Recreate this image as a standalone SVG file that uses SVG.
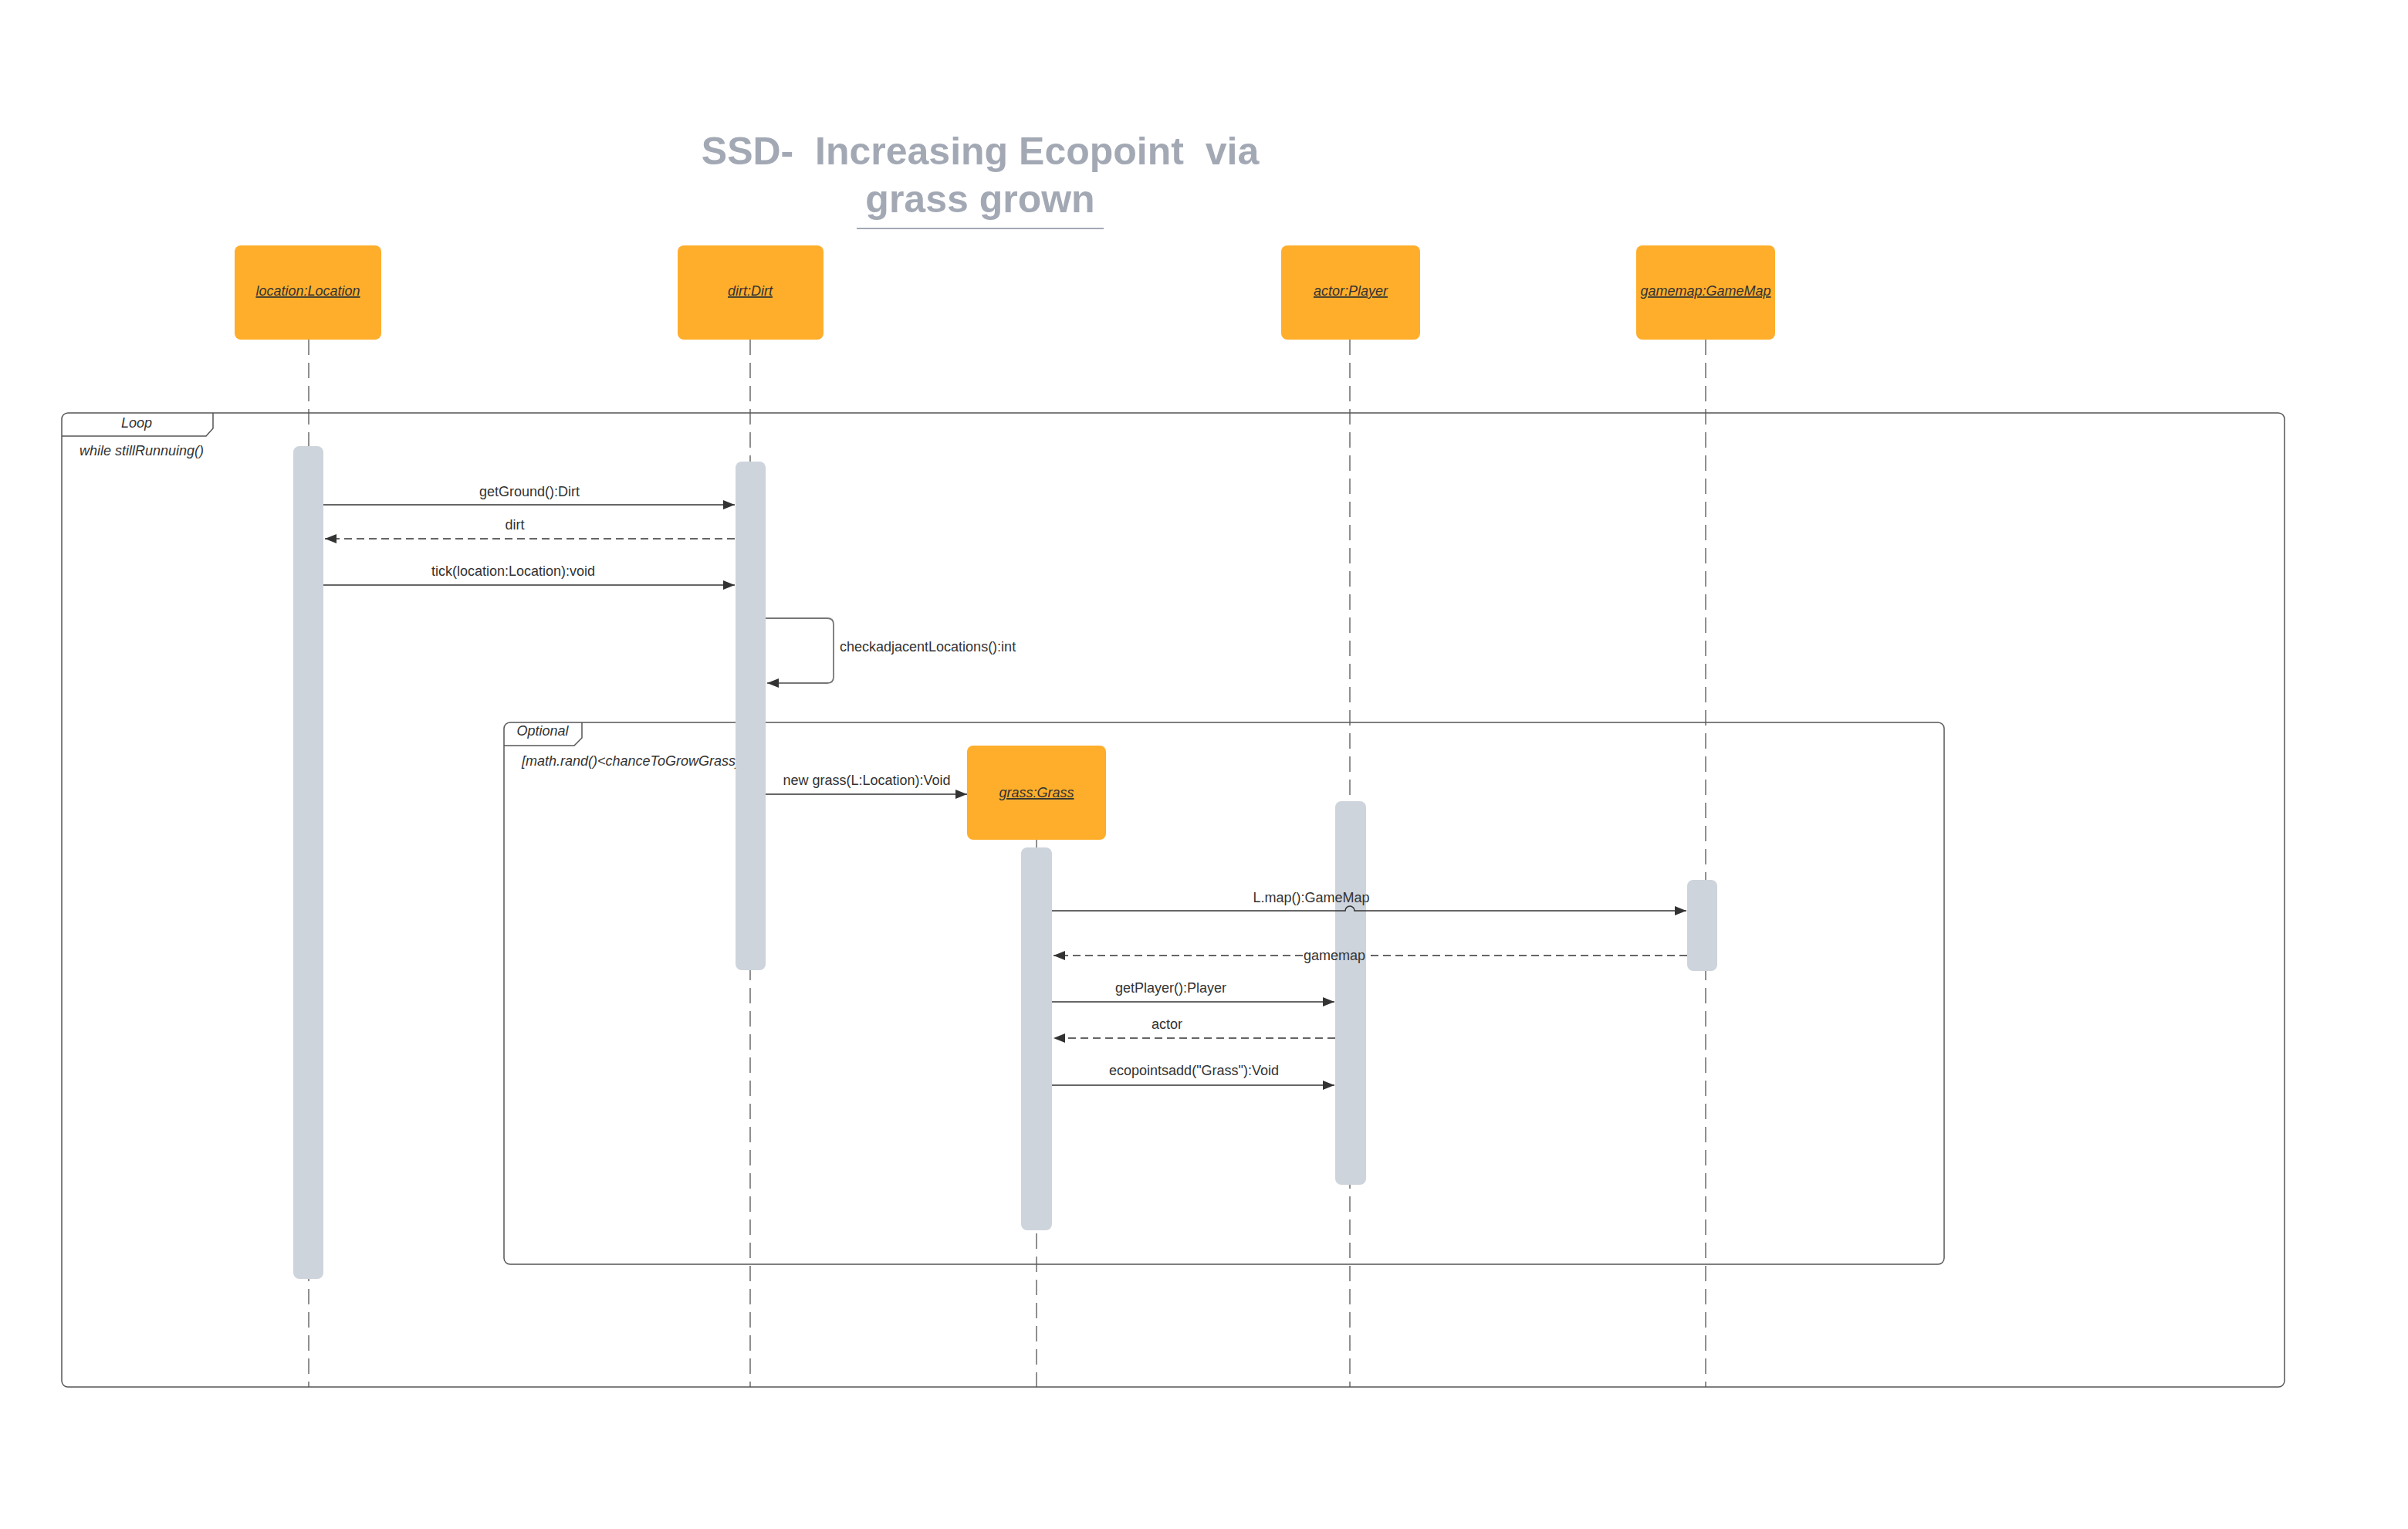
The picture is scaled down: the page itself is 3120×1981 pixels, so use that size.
<svg xmlns="http://www.w3.org/2000/svg" width="3120" height="1981" viewBox="0 0 3120 1981">
<style>
.title{font-family:"Liberation Sans",Arial,sans-serif;font-weight:bold;font-size:50px;fill:#a3a9b4;text-anchor:middle;white-space:pre}
.box{fill:#feae2b}
.nlabel{font-family:"Liberation Sans",Arial,sans-serif;font-size:18px;font-style:italic;text-decoration:underline;fill:#333;text-anchor:middle}
.life{stroke:#555;stroke-width:1.3;stroke-dasharray:20 10;fill:none}
.bar{fill:#ced4dc}
.frame{fill:none;stroke:#555;stroke-width:1.5}
.ftext{font-family:"Liberation Sans",Arial,sans-serif;font-size:18px;font-style:italic;fill:#333}
.msg{stroke:#333;stroke-width:1.6;fill:none}
.ret{stroke:#333;stroke-width:1.6;fill:none;stroke-dasharray:10 6}
.self{stroke:#777;stroke-width:1.8;fill:none}
.mtext{font-family:"Liberation Sans",Arial,sans-serif;font-size:18px;fill:#333;text-anchor:middle}
</style>
<defs>
<marker id="arr" markerUnits="userSpaceOnUse" markerWidth="16" markerHeight="12" refX="15" refY="6" orient="auto">
<path d="M0,0 L15,6 L0,12 z" fill="#333"/>
</marker>
</defs>
<rect width="3120" height="1981" fill="#fff"/>
<g id="title">
<text class="title" x="1270" y="213">SSD-  Increasing Ecopoint  via</text>
<text class="title" x="1270" y="275">grass grown</text>
<line x1="1110" y1="296" x2="1430" y2="296" stroke="#a3a9b4" stroke-width="2"/>
</g>
<g id="frame-loop">
<rect class="frame" x="80" y="535" width="2880" height="1262" rx="8"/>
<path class="frame" d="M80,565 H267 L276,555 V535"/>
<text class="ftext" x="177" y="554" text-anchor="middle">Loop</text>
<text class="ftext" x="103" y="590">while stillRunnuing()</text>
</g>
<g id="frame-optional">
<rect class="frame" x="653" y="936" width="1866" height="702" rx="8"/>
<path class="frame" d="M653,966 H744 L754,956 V936"/>
<text class="ftext" x="703" y="953" text-anchor="middle">Optional</text>
<text class="ftext" x="676" y="992">[math.rand()&lt;chanceToGrowGrass]</text>
</g>
<g id="node-location">
<line class="life" x1="400" y1="440" x2="400" y2="1797"/>
<rect class="box" x="304" y="318" width="190" height="122" rx="8"/>
<text class="nlabel" x="399" y="383">location:Location</text>
<rect class="bar" x="380" y="578" width="39" height="1079" rx="8"/>
</g>
<g id="node-dirt">
<line class="life" x1="972" y1="440" x2="972" y2="1797"/>
<rect class="box" x="878" y="318" width="189" height="122" rx="8"/>
<text class="nlabel" x="972" y="383">dirt:Dirt</text>
<rect class="bar" x="953" y="598" width="39" height="659" rx="8"/>
</g>
<g id="node-actor">
<line class="life" x1="1749" y1="440" x2="1749" y2="1797"/>
<rect class="box" x="1660" y="318" width="180" height="122" rx="8"/>
<text class="nlabel" x="1750" y="383">actor:Player</text>
<rect class="bar" x="1730" y="1038" width="40" height="497" rx="8"/>
</g>
<g id="node-gamemap">
<line class="life" x1="2210" y1="440" x2="2210" y2="1797"/>
<rect class="box" x="2120" y="318" width="180" height="122" rx="8"/>
<text class="nlabel" x="2210" y="383">gamemap:GameMap</text>
<rect class="bar" x="2186" y="1140" width="39" height="118" rx="8"/>
</g>
<g id="node-grass">
<line class="life" x1="1343" y1="1088" x2="1343" y2="1797"/>
<rect class="box" x="1253" y="966" width="180" height="122" rx="8"/>
<text class="nlabel" x="1343" y="1033">grass:Grass</text>
<rect class="bar" x="1323" y="1098" width="40" height="496" rx="8"/>
</g>
<g id="connectors">
<line class="msg" x1="419" y1="654" x2="952" y2="654" marker-end="url(#arr)"/>
<text class="mtext" x="686" y="643">getGround():Dirt</text>
<line class="ret" x1="952" y1="698" x2="421" y2="698" marker-end="url(#arr)"/>
<text class="mtext" x="667" y="686">dirt</text>
<line class="msg" x1="419" y1="758" x2="952" y2="758" marker-end="url(#arr)"/>
<text class="mtext" x="665" y="746">tick(location:Location):void</text>
<path class="self" d="M992,801 H1072 Q1080,801 1080,809 V877 Q1080,885 1072,885 H994" marker-end="url(#arr)"/>
<text class="mtext" x="1088" y="844" style="text-anchor:start">checkadjacentLocations():int</text>
<line class="msg" x1="992" y1="1029" x2="1253" y2="1029" marker-end="url(#arr)"/>
<text class="mtext" x="1123" y="1017">new grass(L:Location):Void</text>
<path class="msg" d="M1363,1180 H1743 A6,6 0 0 1 1755,1180 H2185" marker-end="url(#arr)"/>
<text class="mtext" x="1699" y="1169">L.map():GameMap</text>
<line class="ret" x1="2186" y1="1238" x2="1770" y2="1238"/>
<line class="ret" x1="1688" y1="1238" x2="1365" y2="1238" marker-end="url(#arr)"/>
<text class="mtext" x="1729" y="1244">gamemap</text>
<line class="msg" x1="1363" y1="1298" x2="1729" y2="1298" marker-end="url(#arr)"/>
<text class="mtext" x="1517" y="1286">getPlayer():Player</text>
<line class="ret" x1="1730" y1="1345" x2="1365" y2="1345" marker-end="url(#arr)"/>
<text class="mtext" x="1512" y="1333">actor</text>
<line class="msg" x1="1363" y1="1406" x2="1729" y2="1406" marker-end="url(#arr)"/>
<text class="mtext" x="1547" y="1393">ecopointsadd("Grass"):Void</text>
</g>
</svg>
